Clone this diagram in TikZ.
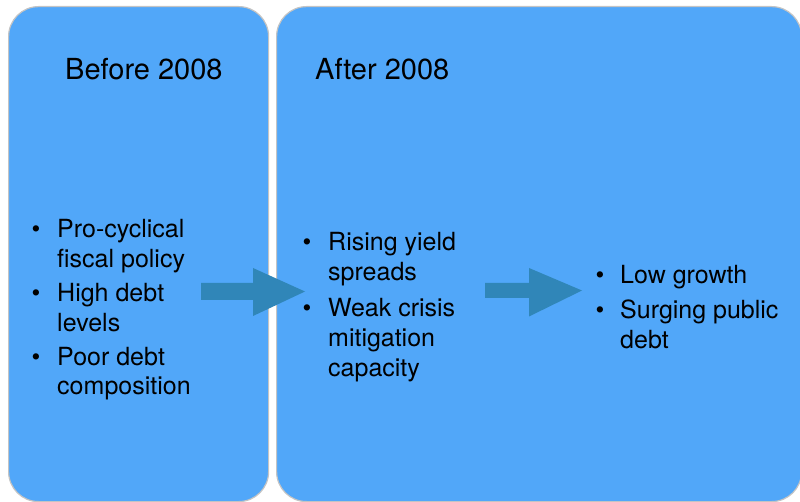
\documentclass[tikz,border=0pt]{standalone}
\usepackage{fontspec}
\setmainfont{TeX Gyre Heros}
\definecolor{panelblue}{HTML}{51A7F9}
\definecolor{arrowblue}{HTML}{3086B8}
\definecolor{panelshade}{HTML}{C4C4C4}
% a top-aligned stack of lines whose baseline is that of its first line
\newcommand\itemlines[1]{\begin{tabular}[t]{@{}l@{}}#1\end{tabular}}
\begin{document}
\begin{tikzpicture}[x=1pt,y=-1pt,
  panel/.style={fill=panelblue, draw=panelshade, line width=1.2pt,
    rounded corners=30pt, inner sep=0pt, anchor=north west},
  heading/.style={anchor=base west, inner sep=0pt,
    font=\fontsize{29}{34}\selectfont},
  itemtext/.style={anchor=base west, inner sep=0pt,
    font=\fontsize{25}{29.5}\selectfont},
  dot/.style={anchor=base, inner sep=0pt,
    font=\fontsize{25}{29.5}\selectfont},
  blockarrow/.style={fill=arrowblue}
]
\useasboundingbox (0,0) rectangle (800,502);

% the two periods
\node[panel, minimum width=260pt, minimum height=495pt] (before) at (8,6) {};
\node[panel, minimum width=525pt, minimum height=495pt] (after) at (276,6) {};

% headings
\node[heading] (hbefore) at (65,80) {Before 2008};
\node[heading] (hafter) at (315,80) {After 2008};

% causes before 2008
\node[dot] (d1) at (36,238) {\textbullet};
\node[itemtext] (i1) at (57,238) {\itemlines{Pro-cyclical\\fiscal policy}};
\node[dot] (d2) at (36,302) {\textbullet};
\node[itemtext] (i2) at (57,302) {\itemlines{High debt\\levels}};
\node[dot] (d3) at (36,365) {\textbullet};
\node[itemtext] (i3) at (57,365) {\itemlines{Poor debt\\composition}};

% immediate effects after 2008
\node[dot] (d4) at (307,251) {\textbullet};
\node[itemtext] (i4) at (328,251) {\itemlines{Rising yield\\spreads}};
\node[dot] (d5) at (307,317) {\textbullet};
\node[itemtext] (i5) at (328,317) {\itemlines{Weak crisis\\mitigation\\capacity}};

% outcomes
\node[dot] (d6) at (600,284) {\textbullet};
\node[itemtext] (i6) at (620,284) {Low growth};
\node[dot] (d7) at (600,319) {\textbullet};
\node[itemtext] (i7) at (620,319) {\itemlines{Surging public\\debt}};

% block arrows
\coordinate (a1) at (201,291.5);
\coordinate (a2) at (485,290.5);
\fill[blockarrow] (a1) ++(0,-8.5) -- ++(52,0) -- ++(0,-15) -- ++(52,23.5)
  -- ++(-52,24.5) -- ++(0,-16) -- ++(-52,0) -- cycle;
\fill[blockarrow] (a2) ++(0,-7.5) -- ++(44,0) -- ++(0,-15) -- ++(53,22.5)
  -- ++(-53,26) -- ++(0,-18.5) -- ++(-44,0) -- cycle;
\end{tikzpicture}
\end{document}
